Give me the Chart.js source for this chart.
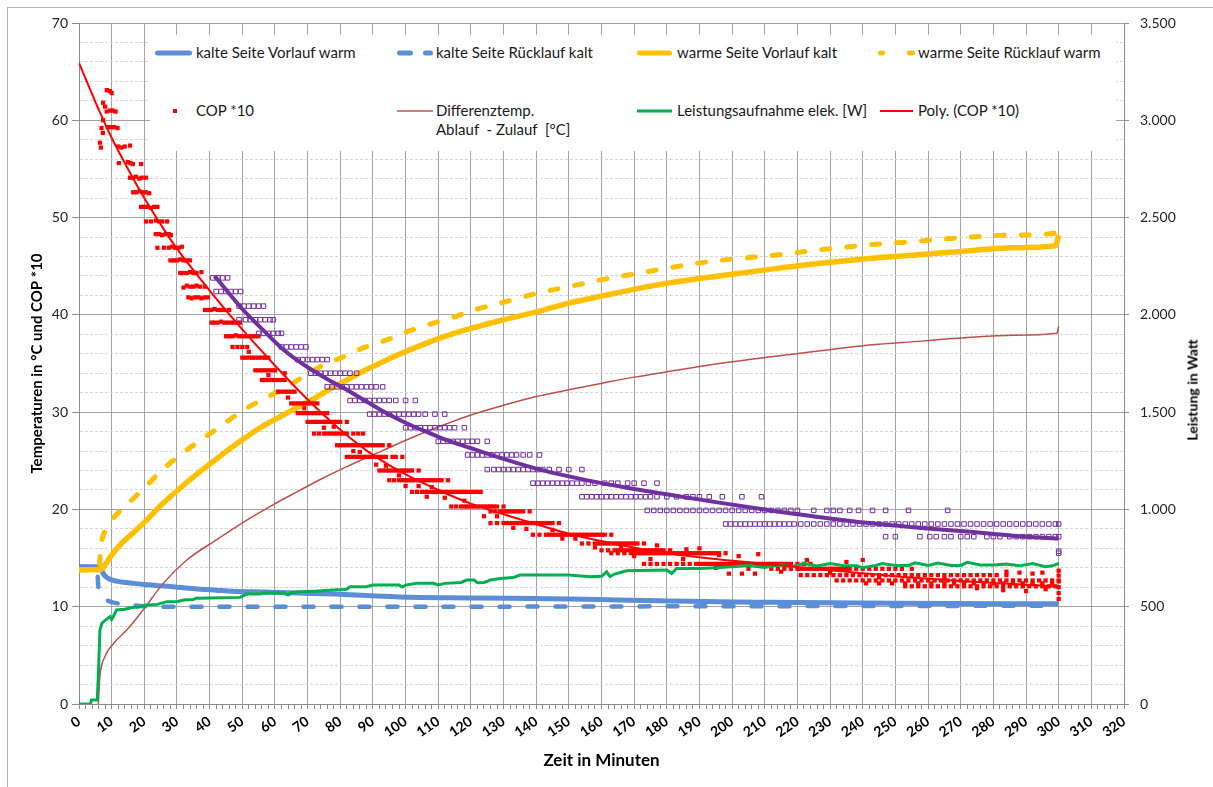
<!DOCTYPE html>
<html>
<head>
<meta charset="utf-8">
<title>Wärmepumpe Messlauf</title>
<style>
  body { margin: 0; background: #fff; }
  #rahmen { position: relative; width: 1213px; height: 787px; overflow: hidden; }
  #rand { position: absolute; left: 7px; top: 7px; width: 1230px; height: 800px; border: 1px solid #B4B4B4; }
  #diagramm { position: absolute; left: 0; top: 0; }
  /* Legende liegt als weisser Kasten oben im Diagramm */
  .legende { position: absolute; left: 150px; top: 35px; width: 966px; height: 116px; background: #fff; }
  .legende svg { position: absolute; left: 0; top: 0; }
  .eintrag { position: absolute; font: 15px Lato, sans-serif; color: #1a1a1a; white-space: pre; line-height: 19px; }
  .titelRechts { position: absolute; left: 1192px; top: 390px; font: bold 14px Lato, sans-serif; color: #000;
                 white-space: nowrap; transform: translate(-50%, -50%) rotate(-90deg); }
</style>
</head>
<body>
<div id="rahmen">
  <div id="rand"></div>
  <canvas id="diagramm" width="1213" height="787"></canvas>

  <div class="legende">
    <svg width="966" height="116">
      <line x1="7.5" y1="18" x2="39.5" y2="18" stroke="#5B8ED6" stroke-width="5" stroke-linecap="round"/>
      <line x1="249.5" y1="18" x2="260.5" y2="18" stroke="#5B8ED6" stroke-width="5" stroke-linecap="round"/>
      <line x1="275.5" y1="18" x2="280.5" y2="18" stroke="#5B8ED6" stroke-width="5" stroke-linecap="round"/>
      <line x1="489.5" y1="18" x2="519.5" y2="18" stroke="#FFC000" stroke-width="5" stroke-linecap="round"/>
      <line x1="730.5" y1="18" x2="732.5" y2="18" stroke="#FFC000" stroke-width="5" stroke-linecap="round"/>
      <line x1="759.5" y1="18" x2="762.5" y2="18" stroke="#FFC000" stroke-width="5" stroke-linecap="round"/>
      <rect x="23" y="74" width="4" height="4" fill="#FF0000"/>
      <line x1="247" y1="76" x2="283" y2="76" stroke="#C0504D" stroke-width="1.5"/>
      <line x1="487" y1="76" x2="522" y2="76" stroke="#00B050" stroke-width="3"/>
      <line x1="730" y1="76" x2="763" y2="76" stroke="#FF0000" stroke-width="2"/>
    </svg>
    <div class="eintrag" style="left:46px; top:8px;">kalte Seite Vorlauf warm</div>
    <div class="eintrag" style="left:286px; top:8px;">kalte Seite Rücklauf kalt</div>
    <div class="eintrag" style="left:527px; top:8px;">warme Seite Vorlauf kalt</div>
    <div class="eintrag" style="left:768px; top:8px;">warme Seite Rücklauf warm</div>
    <div class="eintrag" style="left:46px; top:66px;">COP *10</div>
    <div class="eintrag" style="left:286px; top:66px;">Differenztemp.<br>Ablauf  - Zulauf  [°C]</div>
    <div class="eintrag" style="left:527px; top:66px;">Leistungsaufnahme elek. [W]</div>
    <div class="eintrag" style="left:768px; top:66px;">Poly. (COP *10)</div>
  </div>

  <div class="titelRechts">Leistung in Watt</div>
</div>

<script src="https://cdn.jsdelivr.net/npm/chart.js@4.4.0/dist/chart.umd.min.js"></script>
<script>
// Messwerte: [Minute, Wert]
const kalteVorlauf = [[0,14.1],[6.5,14.1],[7.4,13.4],[8.5,13.0],[10.5,12.7],[13,12.55],[16.6,12.4],[21,12.25],[27,12.1],[32,11.95],[37,11.8],[42,11.7],[47,11.6],[57,11.5],[67,11.4],[78,11.3],[88,11.15],[98,11.0],[120,10.9],[150,10.8],[165,10.7],[181,10.6],[196,10.5],[212,10.45],[250,10.35],[300,10.3]];

const kalteRuecklauf = [[0,14.1],[5.5,14.1],[5.9,12.1],[6.4,11.4],[7.5,10.9],[9,10.6],[11,10.4],[15,10.2],[20,10.05],[30,10.0],[100,10.0],[200,10.05],[300,10.1]];

const warmeVorlauf = [[0,13.8],[6,13.8],[7,13.9],[8,14.3],[10,15.3],[13,16.5],[16.6,17.6],[20.7,18.9],[25,20.4],[31,22.2],[36,23.6],[41,24.9],[46,26.2],[51,27.4],[56,28.5],[62,29.6],[67,30.5],[72,31.4],[77,32.4],[82,33.3],[87,34.2],[92,35.0],[97,35.8],[102,36.5],[108,37.3],[113,37.9],[120,38.6],[130,39.5],[140,40.3],[150,41.2],[161,42.0],[171,42.7],[181,43.3],[196,44.0],[212,44.7],[227,45.3],[242,45.8],[258,46.2],[273,46.6],[286,46.9],[299,47.1],[300,48.2]];

const warmeRuecklauf = [[0,13.8],[6,13.8],[6.5,15.2],[7,16.8],[8,17.8],[10,18.9],[15,20.6],[20,22.2],[25,23.9],[31,25.6],[38,27.3],[44,28.7],[49,29.9],[55,31.1],[62,32.3],[68,33.5],[74,34.7],[81,35.7],[87,36.6],[94,37.4],[100,38.2],[108,39.1],[115,39.8],[120,40.4],[130,41.3],[140,42.2],[150,42.9],[160,43.6],[170,44.2],[180,44.8],[196,45.6],[212,46.1],[227,46.7],[242,47.2],[258,47.6],[273,48.0],[286,48.2],[299,48.4],[300,49.1]];

const differenzTemp = [[5.9,0],[6.4,2.8],[8,4.9],[10.5,6.2],[14.6,7.6],[19.7,9.7],[25.8,12.4],[33,14.8],[42.2,16.9],[51.4,18.9],[59,20.4],[66.7,21.8],[74,23.1],[82,24.4],[90,25.6],[97.3,26.7],[105,27.8],[112.6,28.8],[120,29.7],[130,30.7],[140,31.6],[150,32.3],[160.6,33.0],[170,33.6],[181,34.2],[196,35.0],[212,35.7],[227,36.3],[242,36.9],[258,37.3],[273,37.7],[286,37.9],[299.4,38.1],[300,38.8]];

// Leistungsaufnahme in Watt (rechte Achse)
const leistung = [[0,0],[3.5,0],[3.8,20],[5.6,20],[6,180],[6.4,380],[7,415],[8,430],[9.5,449],[10,435],[10.5,449],[11.5,483],[14,487],[16.6,497],[18,497],[20.7,509],[24,512],[26.9,526],[30,526],[32,534],[35,537],[36,545],[37,543],[40,545],[49.3,548],[51.4,565],[55,565],[58,570],[62.6,572],[64,560],[65,572],[67.7,577],[72,580],[77.9,586],[82,590],[83,603],[88,603],[90,611],[98,611],[99,601],[100,611],[103.4,620],[108.5,620],[110,612],[112,620],[117,625],[118.7,637],[121,637],[122,623],[124,625],[126,637],[129,645],[133,650],[135,663],[150,663],[156.5,654],[160,656],[161.6,680],[162.6,655],[164,668],[167.7,685],[180,689],[181.5,671],[183,697],[190,697],[195,700],[200,705],[205,712],[210,702],[212,708],[215,715],[218,706],[222,722],[226,710],[230,722],[234,712],[238,710],[240,700],[244,712],[246,722],[250,712],[254,712],[256,726],[260,712],[263,724],[267,712],[270,712],[272,728],[276,714],[280,714],[284,720],[288,710],[292,722],[296,706],[298,710],[300,722]];

// COP * 10, Einzelwerte
const copPunkte = [
  [6.4,57.7],[6.7,57.2],[6.9,59.2],[7.3,58.7],[7.4,61.8],[7.4,60.0],[8,61.4],[8.5,63.1],[8.5,60.9],[8.8,59.3],[9.5,63.0],[9.5,61.0],[9.8,59.3],[10,62.8],[10.3,61.0],[10.8,59.3],[11.2,60.9],[11.8,59.2],
  [12,57.3],[13,57.2],[14,57.3],[15.6,57.4],
  [12.2,55.6],[15,55.7],[15.8,55.6],[16.5,55.5],[19,55.5],
  [15.6,54.1],[16.5,54.1],[17.5,54.2],[18.5,54.0],[19.2,54.1],[20.5,54.1],
  [16.6,52.6],[17.5,52.6],[18.5,52.7],[19.5,52.6],[20.5,52.6],[21.5,52.5],
  [19,51.1],[20,51.1],[21,51.1],[22,51.0],[23,51.1],[24,51.1],
  [20.5,49.6],[22,49.6],[23.5,49.7],[24.5,49.6],[25.5,49.6],[27,49.6],
  [23.5,48.3],[24.5,48.3],[25.5,48.2],[26.5,48.3],[27.5,48.3],[28.1,48.2],
  [24,46.9],[26,46.9],[27.5,46.9],[28.5,47.0],[29.5,46.9],[30.5,46.9],[31.5,47.0],
  [28,45.6],[29,45.6],[30,45.6],[31,45.7],[32,45.6],[33,45.6],[34,45.6],
  [31,44.3],[32,44.3],[33,44.3],[34,44.4],[35,44.3],[36,44.3],[37.5,44.4],
  [32,42.8],[33,43.0],[34,42.9],[35,42.9],[36,43.0],[37,42.9],[38.5,42.9],
  [33.5,41.8],[34.5,41.7],[35.5,41.8],[36.5,41.8],[37.5,41.7],[38.5,41.8],[39.5,41.8],
  [38.6,40.5],[39.5,40.5],[40.5,40.5],[41.5,40.6],[42.5,40.5],[43.5,40.5],[44.5,40.5],[46,40.5],
  [40.6,39.2],[41.5,39.2],[42.5,39.2],[43.5,39.3],[44.5,39.2],[45.5,39.2],[46.5,39.2],[47.5,39.2],[48.5,39.2],[49.3,39.2],
  [45,37.8],[46,37.8],[47,37.8],[48,37.9],[49,37.8],[50,37.8],[51,37.8],[52,37.8],[53,37.8],[54,37.8],[55,37.8],
  [47,36.7],[48.5,36.7],[50,36.7],[51.5,36.7],
  [50,35.6],[51,35.6],[52,35.6],[53,35.6],[54,35.6],[55,35.6],[56,35.6],[57,35.6],[58,35.6],
  [54,34.3],[55,34.3],[56,34.3],[57,34.3],[58,34.3],[59,34.3],[60,34.3],[63,34.0],
  [56,33.3],[57,33.3],[58,33.3],[59,33.3],[60,33.3],[61,33.3],[62,33.3],[63,33.3],
  [61,32.1],[62,32.1],[63,32.1],[64,32.1],[65,32.1],[66,32.1],
  [65,30.9],[66,30.9],[67,30.9],[68,30.9],[69,30.9],[70,30.9],[71,30.9],[72,30.9],[73,30.9],
  [67,29.9],[68,29.9],[69,29.9],[70,29.9],[71,29.9],[72,29.9],[73,29.9],[74,29.9],[75,29.9],[76,29.9],
  [70,29.0],[71,29.0],[72,29.0],[73,29.0],[74,29.0],[75,29.0],[76,29.0],[77,29.0],[78,29.0],[79,29.0],[80,29.0],[82,29.0],
  [72,27.8],[73.5,27.8],[75,27.8],[76,27.8],[77,27.8],[78,27.8],[79,27.8],[80,27.8],[81,27.8],[82,27.8],[84,27.8],[85.5,27.8],[87,27.8],
  [79,26.6],[80,26.6],[81,26.6],[82,26.6],[83,26.6],[84,26.6],[85,26.6],[86,26.6],[87,26.6],[88,26.6],[89,26.6],[90,26.6],[91,26.6],[92,26.6],[93,26.6],[95,26.6],
  [82,25.4],[83,25.4],[84,25.4],[85,25.4],[86,25.4],[87,25.4],[88,25.4],[89,25.4],[90,25.4],[91,25.4],[92,25.4],[93,25.4],[94,25.4],[96,25.4],[97,25.4],[99,25.4],
  [92,24.0],[93,24.0],[94,24.0],[95,24.0],[96,24.0],[97,24.0],[98,24.0],[99,24.0],[100,24.0],[101,24.0],[102,24.0],[104,24.0],
  [95,23.0],[96.5,23.0],[98,23.0],[99,23.0],[100,23.0],[101,23.0],[102,23.0],[103,23.0],[104,23.0],[105,23.0],[106,23.0],[107,23.0],[108,23.0],[109,23.0],[110,23.0],[111,23.0],[113,23.0],
  [102,21.8],[103.5,21.8],[105,21.8],[106,21.8],[107,21.8],[108,21.8],[109,21.8],[110,21.8],[111,21.8],[112,21.8],[113,21.8],[114,21.8],[115,21.8],[116,21.8],[117,21.8],[118,21.8],[119,21.8],[120,21.8],[121,21.8],[122,21.8],[123,21.8],
  [106.5,21.3],
  [114,20.3],[115.5,20.3],[117,20.3],[118,20.3],[119,20.3],[120,20.3],[121,20.3],[122,20.3],[123,20.3],[124,20.3],[125,20.3],[126,20.3],[127,20.3],[128,20.3],[130,20.3],
  [126,19.8],[127.5,19.8],[129,19.8],[130,19.8],[131,19.8],[132,19.8],[133,19.8],[134,19.8],[135,19.8],[136,19.8],[138,19.8],
  [126,18.6],[128,18.6],[130,18.6],[131,18.6],[132,18.6],[133,18.6],[134,18.6],[135,18.6],[136,18.6],[137,18.6],[138,18.6],[139,18.6],[140,18.6],[141,18.6],[142,18.6],[143,18.6],[144,18.6],[145,18.6],[147,18.6],
  [139,17.4],[141,17.4],[143,17.4],[144,17.4],[145,17.4],[146,17.4],[147,17.4],[148,17.4],[149,17.4],[150,17.4],[151,17.4],[152,17.4],[153,17.4],[154,17.4],[155,17.4],[156,17.4],[157,17.4],[158,17.4],[159,17.4],[160,17.4],[161,17.4],[163,17.4],
  [154,16.5],[156,16.5],[158,16.5],[159,16.5],[160,16.5],[161,16.5],[162,16.5],[163,16.5],[164,16.5],[165,16.5],[166,16.5],[167,16.5],[168,16.5],[169,16.5],[170,16.5],[171,16.5],[173,16.5],
  [160,15.8],[162,15.8],[164,15.8],[165,15.8],[166,15.8],[167,15.8],[168,15.8],[169,15.8],[170,15.8],[171,15.8],[172,15.8],[173,15.8],[174,15.8],[175,15.8],[176,15.8],[177,15.8],[178,15.8],[179,15.8],[181,15.8],
  [163,15.5],[165,15.5],[167,15.5],[169,15.5],[170,15.5],[171,15.5],[172,15.5],[173,15.5],[174,15.5],[175,15.5],[176,15.5],[177,15.5],[178,15.5],[179,15.5],[180,15.5],[181,15.5],[182,15.5],[183,15.5],[184,15.5],[185,15.5],[186,15.5],[187,15.5],[188,15.5],[189,15.5],[190,15.5],[191,15.5],[192,15.5],[193,15.5],[194,15.5],[195,15.5],[196,15.5],[198,15.5],
  [173,14.4],[175,14.4],[177,14.4],[179,14.4],[181,14.4],[183,14.4],[185,14.4],[187,14.4],[189,14.4],[190,14.4],[191,14.4],[192,14.4],[193,14.4],[194,14.4],[195,14.4],[196,14.4],[197,14.4],[198,14.4],[199,14.4],[200,14.4],[201,14.4],[202,14.4],[203,14.4],[204,14.4],[205,14.4],[206,14.4],[207,14.4],[208,14.4],[209,14.4],[210,14.4],[211,14.4],[212,14.4],[213,14.4],[214,14.4],[215,14.4],[216,14.4],[217,14.4],[218,14.4],[220,14.4],[222,14.4],[224,14.4],
  [212,13.9],[214,13.9],[216,13.9],[218,13.9],[220,13.9],[221,13.9],[222,13.9],[223,13.9],[224,13.9],[225,13.9],[226,13.9],[227,13.9],[228,13.9],[229,13.9],[230,13.9],[231,13.9],[232,13.9],[233,13.9],[234,13.9],[235,13.9],[236,13.9],[238,13.9],[240,13.9],[242,13.9],[244,13.9],[246,13.9],[248,13.9],[250,13.9],[252,13.9],[255,13.9],
  [221,13.25],[223,13.25],[225,13.25],[227,13.25],[229,13.25],[231,13.25],[233,13.25],[235,13.25],[237,13.25],[239,13.25],[241,13.25],[243,13.25],[245,13.25],[247,13.25],[249,13.25],[251,13.25],[253,13.25],[255,13.25],[257,13.25],[259,13.25],[261,13.25],[263,13.25],[265,13.25],[267,13.25],[269,13.25],[271,13.25],[273,13.25],[275,13.25],[277,13.25],[279,13.25],[281,13.25],[284,13.25],
  [232,12.7],[234,12.7],[236,12.7],[238,12.7],[240,12.7],[242,12.7],[244,12.7],[246,12.7],[248,12.7],[250,12.7],[252,12.7],[254,12.7],[256,12.7],[258,12.7],[260,12.7],[262,12.7],[264,12.7],[266,12.7],[268,12.7],[270,12.7],[272,12.7],[274,12.7],[276,12.7],[278,12.7],[280,12.7],[282,12.7],[284,12.7],[286,12.7],[288,12.7],[290,12.7],[292,12.7],[294,12.7],[296,12.7],[298,12.7],[300,12.7],
  [241,12.4],[245,12.4],[249,12.4],[253,12.4],[257,12.4],[261,12.4],[265,12.4],[268,12.4],[271,12.4],[274,12.4],[277,12.4],[280,12.4],[283,12.4],[286,12.4],[289,12.4],[292,12.4],[295,12.4],[298,12.4],
  [253,12.1],[255,12.1],[257,12.1],[259,12.1],[261,12.1],[263,12.1],[265,12.1],[267,12.1],[269,12.1],[271,12.1],[273,12.1],[275,12.1],[277,12.1],[279,12.1],[281,12.1],[283,12.1],[285,12.1],[287,12.1],[289,12.1],[291,12.1],[293,12.1],[295,12.1],[297,12.1],[299,12.1],
  // einzelne Ausreisser zwischen den Stufen
  [52,36.2],[58,33.8],[64,31.5],[69,30.4],[75,28.4],[78,28.5],[84,26.0],[86,25.9],[91,24.6],[94,24.5],[98,23.5],[100,22.4],[104,22.4],[108,22.3],[112,21.2],[118,20.9],[124,19.3],[128,19.3],[133,18.1],[137,18.0],[145,17.9],[148,17.0],[152,17.0],[158,16.1],[166,16.1],[170,15.2],[175,14.9],[185,14.9],[195,14.0],[205,13.9],[215,13.6],[230,13.5],[245,13.0],[265,12.9],[275,11.9],
  [177,16.3],[186,15.9],[190,16.0],[196,15.3],[202,15.2],[208,15.4],[222.9,14.8],[235,14.6],[240,14.8],[199,13.4],[203,13.4],[207,13.4],
  [284,13.6],[288,13.5],[292,13.4],[295,13.5],[283,11.7],[290,11.6],[296,11.8],
  [300,13.7],[300,13.2],[300,12.6],[300,12.0],[300,11.4],[300,10.8]
];

// Ausgleichskurve COP * 10
const copPoly = [[0,65.9],[5,61.9],[10,58.2],[15,55.0],[20,52.0],[25,49.3],[30,46.8],[40,42.5],[50,38.5],[60,34.8],[70,31.3],[80,28.2],[90,25.6],[100,23.6],[110,22.0],[120,20.6],[135,19.0],[150,17.5],[165,16.4],[180,15.5],[195,14.9],[210,14.4],[225,13.9],[240,13.45],[255,13.0],[270,12.65],[285,12.35],[300,12.05]];

// violette Messreihe ohne Legendeneintrag
const violettPunkte = [
  [41,43.8],[42.5,43.8],[44,43.8],[45.5,43.8],
  [42,42.4],[43.5,42.4],[45,42.4],[46.5,42.4],[48,42.4],[49.5,42.4],
  [49,40.9],[50.5,40.9],[52,40.9],[53.5,40.9],[55,40.9],[56.5,40.9],
  [49,39.5],[51,39.5],[52.5,39.5],[54,39.5],[55.5,39.5],[57,39.5],[58.5,39.5],[59.5,39.5],
  [55,38.1],[56.5,38.1],[58,38.1],[59.5,38.1],[61,38.1],[62,38.1],
  [62,36.7],[63.5,36.7],[65,36.7],[66.5,36.7],[68,36.7],[69.5,36.7],
  [67,35.4],[68.5,35.4],[70,35.4],[71.5,35.4],[73,35.4],[74.5,35.4],[76,35.4],
  [71,34.0],[72.5,34.0],[74,34.0],[75.5,34.0],[77,34.0],[78.5,34.0],[80,34.0],[81.5,34.0],[83,34.0],[85,34.0],
  [76,32.6],[77.5,32.6],[79,32.6],[80.5,32.6],[82,32.6],[83.5,32.6],[85,32.6],[86.5,32.6],[88,32.6],[89.5,32.6],[91,32.6],[93,32.6],
  [83,31.2],[84.5,31.2],[86,31.2],[87.5,31.2],[89,31.2],[90.5,31.2],[92,31.2],[93.5,31.2],[95,31.2],[97,31.2],[100,31.2],[103,31.2],
  [89,29.8],[90.5,29.8],[92,29.8],[93.5,29.8],[95,29.8],[96.5,29.8],[98,29.8],[99.5,29.8],[101,29.8],[102.5,29.8],[104,29.8],[106,29.8],[109,29.8],[112,29.8],
  [100,28.4],[101.5,28.4],[103,28.4],[104.5,28.4],[106,28.4],[107.5,28.4],[109,28.4],[110.5,28.4],[112,28.4],[113.5,28.4],[115,28.4],[118,28.4],
  [110,27.0],[111.5,27.0],[113,27.0],[114.5,27.0],[116,27.0],[117.5,27.0],[119,27.0],[120.5,27.0],[122,27.0],[125,27.0],
  [119,25.6],[120.5,25.6],[122,25.6],[123.5,25.6],[125,25.6],[126.5,25.6],[128,25.6],[129.5,25.6],[131,25.6],[132.5,25.6],[134,25.6],[136,25.6],[138,25.6],[141,25.6],
  [125,24.1],[127,24.1],[128.5,24.1],[130,24.1],[131.5,24.1],[133,24.1],[134.5,24.1],[136,24.1],[137.5,24.1],[139,24.1],[140.5,24.1],[142,24.1],[144,24.1],[147,24.1],[150,24.1],[154,24.1],
  [139,22.7],[140.5,22.7],[142,22.7],[143.5,22.7],[145,22.7],[146.5,22.7],[148,22.7],[149.5,22.7],[151,22.7],[152.5,22.7],[154,22.7],[156,22.7],[158,22.7],[161,22.7],[163,22.7],[165,22.7],[168,22.7],[170,22.7],[173,22.7],[177,22.7],
  [154,21.3],[155.5,21.3],[157,21.3],[158.5,21.3],[160,21.3],[161.5,21.3],[163,21.3],[164.5,21.3],[166,21.3],[167.5,21.3],[169,21.3],[170.5,21.3],[172,21.3],[173.5,21.3],[175,21.3],[177,21.3],[180,21.3],[183,21.3],[186,21.3],[188,21.3],[190,21.3],[193,21.3],[197,21.3],[203,21.3],[209,21.3],
  [174,19.9],[176,19.9],[178,19.9],[180,19.9],[182,19.9],[184,19.9],[186,19.9],[188,19.9],[190,19.9],[192,19.9],[194,19.9],[196,19.9],[198,19.9],[200,19.9],[202,19.9],[204,19.9],[206,19.9],[208,19.9],[210,19.9],[212,19.9],[214,19.9],[216,19.9],[218,19.9],[220,19.9],[225,19.9],[229,19.9],[231,19.9],[233,19.9],[236,19.9],[238.7,19.9],[243,19.9],[247,19.9],[254,19.9],[266,19.9],
  [198,18.5],[199.5,18.5],[201,18.5],[202.5,18.5],[204,18.5],[205.5,18.5],[207,18.5],[208.5,18.5],[210,18.5],[211.5,18.5],[213,18.5],[214.5,18.5],[216,18.5],[217.5,18.5],[219,18.5],[221,18.5],[223,18.5],[225,18.5],[227,18.5],[229,18.5],[231,18.5],[233,18.5],[235,18.5],[237,18.5],[239,18.5],[241,18.5],[243,18.5],[245,18.5],[247,18.5],[249,18.5],[251,18.5],[253,18.5],[255,18.5],[257,18.5],[259,18.5],[261,18.5],[263,18.5],[265,18.5],[267,18.5],[269,18.5],[271,18.5],[273,18.5],[275,18.5],[277,18.5],[279,18.5],[281,18.5],[283,18.5],[285,18.5],[287,18.5],[289,18.5],[291,18.5],[293,18.5],[295,18.5],[297,18.5],[299,18.5],[300,18.5],
  [247,17.2],[250,17.2],[257.5,17.2],[260.5,17.2],[262.5,17.2],[265,17.2],[267,17.2],[270,17.2],[272,17.2],[274,17.2],[278,17.2],[280,17.2],[282,17.2],[285,17.2],[287,17.2],[289,17.2],[291,17.2],[293,17.2],[295,17.2],[297,17.2],[299,17.2],[300,17.2],
  [300,15.7],[300,15.5]
];

const violettLinie = [[41.5,44.0],[46,42.2],[50,40.6],[55,38.9],[62,36.6],[67,35.3],[72,34.2],[77,33.2],[82,32.3],[87,31.3],[92,30.3],[97,29.4],[102,28.6],[107,27.9],[112,27.2],[120,26.3],[130,25.2],[140,24.2],[150,23.4],[160,22.7],[170,22.1],[181,21.5],[196,20.7],[212,19.9],[227,19.2],[242,18.6],[258,18.1],[273,17.7],[286,17.3],[300,17.0]];

function punkte(liste) {
  return liste.map(p => ({x: p[0], y: p[1]}));
}

Chart.defaults.font.family = 'Lato, sans-serif';

const linie = (label, daten, farbe, breite, reihenfolge, extra) => Object.assign({
  label: label,
  data: punkte(daten),
  showLine: true,
  borderColor: farbe,
  borderWidth: breite,
  pointRadius: 0,
  pointHoverRadius: 0,
  cubicInterpolationMode: 'monotone',
  order: reihenfolge,
  yAxisID: 'y'
}, extra || {});

const ctx = document.getElementById('diagramm').getContext('2d');
const chart = new Chart(ctx, {
  type: 'scatter',
  data: {
    datasets: [
      linie('kalte Seite Vorlauf warm', kalteVorlauf, '#5B8ED6', 5, 10),
      linie('kalte Seite Rücklauf kalt', kalteRuecklauf, '#5B8ED6', 4.5, 9, {borderDash: [10, 18], borderCapStyle: 'round'}),
      linie('warme Seite Vorlauf kalt', warmeVorlauf, '#FFC000', 5.5, 8),
      linie('warme Seite Rücklauf warm', warmeRuecklauf, '#FFC000', 5, 7, {borderDash: [8, 17], borderCapStyle: 'round'}),
      linie('Differenztemp. Ablauf - Zulauf [°C]', differenzTemp, '#C0504D', 1.5, 6),
      linie('Leistungsaufnahme elek. [W]', leistung, '#00B050', 3, 4, {yAxisID: 'y2', cubicInterpolationMode: 'default', tension: 0}),
      {
        label: 'COP *10',
        data: punkte(copPunkte),
        pointStyle: 'rect',
        pointRadius: 3,
        pointHoverRadius: 3,
        backgroundColor: '#FF0000',
        borderWidth: 0,
        order: 5,
        yAxisID: 'y'
      },
      linie('Poly. (COP *10)', copPoly, '#FF0000', 2, 3),
      {
        label: 'violett',
        data: punkte(violettPunkte),
        pointStyle: 'rect',
        pointRadius: 3.2,
        pointHoverRadius: 3.2,
        backgroundColor: 'rgba(255,255,255,0)',
        borderColor: '#7030A0',
        borderWidth: 1,
        order: 2,
        yAxisID: 'y'
      },
      linie('violett Verlauf', violettLinie, '#7030A0', 4, 1)
    ]
  },
  options: {
    responsive: false,
    animation: false,
    events: [],
    layout: { padding: { top: 23, left: 0, right: 0, bottom: 0 } },
    plugins: { legend: { display: false }, tooltip: { enabled: false } },
    scales: {
      x: {
        type: 'linear',
        min: 0,
        max: 320,
        ticks: {
          stepSize: 2,
          autoSkip: false,
          minRotation: 35,
          maxRotation: 35,
          padding: 4,
          color: '#000',
          font: { size: 14, weight: 'bold' },
          callback: v => (v % 10 === 0 ? String(v) : '')
        },
        grid: {
          color: c => (c.tick && c.tick.value % 10 === 0 ? '#A3A3A3' : 'rgba(0,0,0,0)'),
          tickColor: '#8C8C8C',
          tickLength: 5
        },
        border: { color: '#8C8C8C' },
        title: {
          display: true,
          text: 'Zeit in Minuten',
          color: '#000',
          font: { size: 17, weight: 'bold' },
          padding: { top: 0, bottom: 16 }
        },
        afterFit: s => { s.height = 83; }
      },
      y: {
        position: 'left',
        min: 0,
        max: 70,
        ticks: {
          stepSize: 2,
          autoSkip: false,
          padding: 4,
          color: '#262626',
          font: { size: 14 },
          callback: v => (v % 10 === 0 ? String(v) : '')
        },
        grid: {
          color: c => (c.tick && c.tick.value % 10 !== 0 ? '#D4D4D4' : '#A3A3A3'),
          tickColor: c => (c.tick && c.tick.value % 10 !== 0 ? 'rgba(0,0,0,0)' : '#8C8C8C'),
          tickLength: 7
        },
        border: {
          color: '#8C8C8C',
          dash: c => (c.tick && c.tick.value % 10 !== 0 ? [3, 2] : [])
        },
        title: {
          display: true,
          text: 'Temperaturen in °C und COP *10',
          color: '#000',
          font: { size: 15, weight: 'bold' },
          padding: { top: 28, bottom: 0 }
        },
        afterFit: s => { s.width = 79; }
      },
      y2: {
        position: 'right',
        min: 0,
        max: 3500,
        ticks: {
          stepSize: 500,
          padding: 11,
          color: '#262626',
          font: { size: 14 },
          callback: v => v.toLocaleString('de-DE')
        },
        grid: { drawOnChartArea: false, tickColor: '#8C8C8C', tickLength: 5 },
        border: { color: '#8C8C8C' },
        afterFit: s => { s.width = 89; }
      }
    }
  }
});
</script>
</body>
</html>
